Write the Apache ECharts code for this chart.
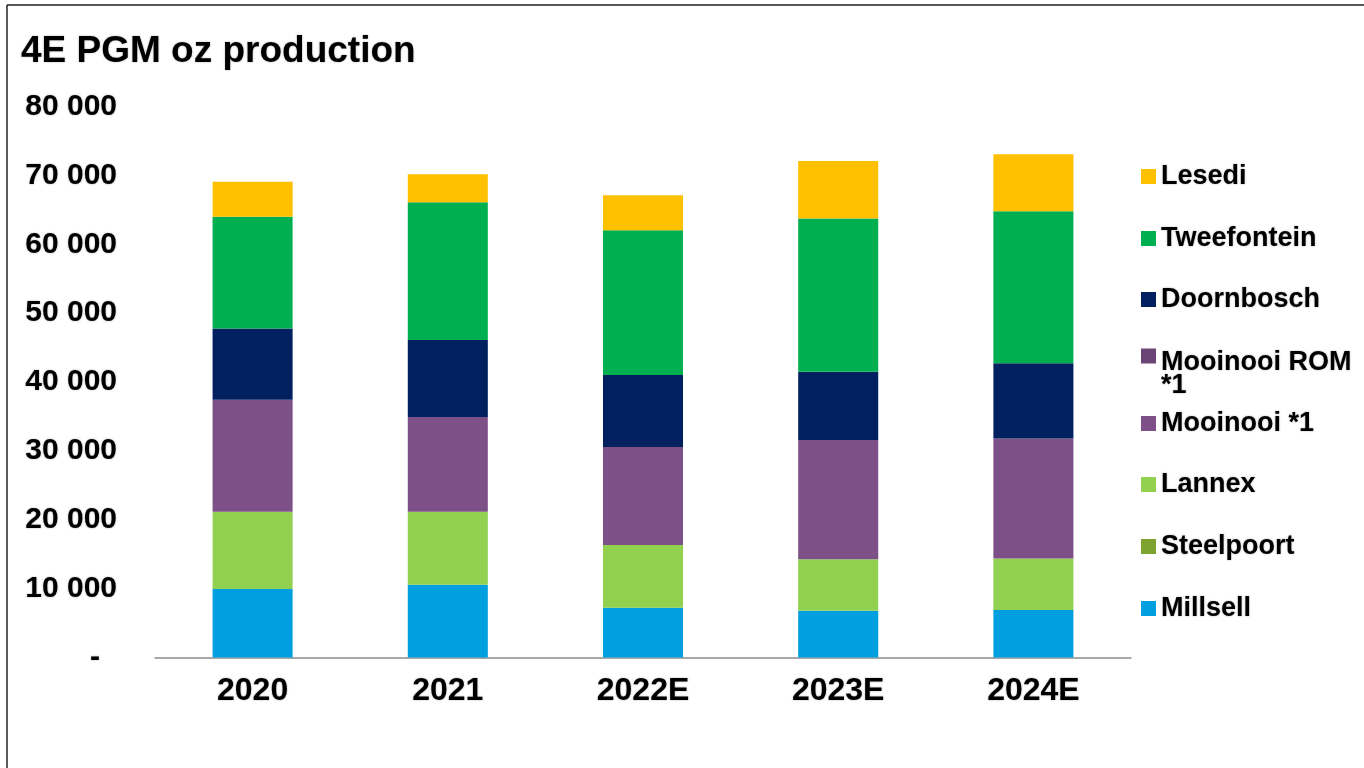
<!DOCTYPE html>
<html>
<head>
<meta charset="utf-8">
<script src="https://cdn.jsdelivr.net/npm/echarts@6/dist/echarts.min.js"></script>
<style>
html,body{margin:0;padding:0;background:#fff;}
#chart{width:1364px;height:768px;}
</style>
</head>
<body>
<div id="chart"></div>
<script>
// ---- data ----
const categories = ['2020', '2021', '2022E', '2023E', '2024E'];
const millsell    = [9940, 10570, 7230, 6790, 6890];
const steelpoort  = [0, 0, 0, 0, 0];
const lannex      = [11220, 10600, 9100, 7460, 7500];
const mooinooi    = [16260, 13750, 14220, 17320, 17420];
const mooinooiRom = [0, 0, 0, 0, 0];
const doornbosch  = [10360, 11180, 10450, 9910, 10930];
const tweefontein = [16200, 19990, 21050, 22270, 22060];
const lesedi      = [5080, 4060, 5080, 8320, 8270];
const yTicks = { min: 0, max: 80000, interval: 10000 };
const titleText = '4E PGM oz production';

// ---- chart ----
const FONT = 'Liberation Sans, Arial, sans-serif';
const shadow = { textShadowColor: 'rgba(0,0,0,0.35)', textShadowBlur: 2 };

const seriesDefs = [
  { name: 'Millsell', data: millsell, color: '#009FDF' },
  { name: 'Steelpoort', data: steelpoort, color: '#7FA32F' },
  { name: 'Lannex', data: lannex, color: '#92D050' },
  { name: 'Mooinooi *1', data: mooinooi, color: '#7D5088' },
  { name: 'Mooinooi ROM *1', data: mooinooiRom, color: '#6C4577' },
  { name: 'Doornbosch', data: doornbosch, color: '#002060' },
  { name: 'Tweefontein', data: tweefontein, color: '#00B050' },
  { name: 'Lesedi', data: lesedi, color: '#FFC000' }
];

// legend item vertical centres (layout)
const legendCenters = {
  'Lesedi': 175, 'Tweefontein': 237, 'Doornbosch': 298, 'Mooinooi ROM *1': 356,
  'Mooinooi *1': 422, 'Lannex': 483, 'Steelpoort': 545, 'Millsell': 607
};
const legendTextBase = { color: '#000', fontWeight: 'bold', fontSize: 27, fontFamily: FONT, lineHeight: 24, ...shadow };
const richLine = { color: '#000', fontWeight: 'bold', fontSize: 27, fontFamily: FONT, lineHeight: 23, ...shadow };

const legends = Object.keys(legendCenters).map(name => {
  const isRom = name === 'Mooinooi ROM *1';
  const h = isRom ? 37 + 46 : 24;
  return {
    data: [name],
    orient: 'vertical',
    left: 1141,
    top: legendCenters[name] - h / 2,
    itemWidth: 15,
    itemHeight: 15,
    icon: 'rect',
    padding: 0,
    formatter: n => isRom ? '{e| }\n{a|Mooinooi ROM}\n{a|*1}' : n,
    textStyle: Object.assign({}, legendTextBase, isRom ? {
      rich: { e: { fontSize: 10, lineHeight: 37 }, a: richLine }
    } : {})
  };
});

const chart = echarts.init(document.getElementById('chart'));
chart.setOption({
  backgroundColor: '#fff',
  animation: false,
  title: {
    text: titleText,
    left: 16,
    top: 28,
    textStyle: { color: '#000', fontWeight: 'bold', fontSize: 37, fontFamily: FONT, ...shadow }
  },
  legend: legends,
  grid: { left: 155, right: 233, top: 106.5, bottom: 110.5, containLabel: false },
  xAxis: {
    type: 'category',
    data: categories,
    axisLine: { lineStyle: { color: '#8c8c8c', width: 1.5 } },
    axisTick: { show: false },
    axisLabel: { color: '#000', fontWeight: 'bold', fontSize: 32, fontFamily: FONT, margin: 18, ...shadow }
  },
  yAxis: {
    type: 'value',
    min: yTicks.min, max: yTicks.max, interval: yTicks.interval,
    splitLine: { show: false },
    axisLine: { show: false },
    axisTick: { show: false },
    axisLabel: {
      color: '#000', fontWeight: 'bold', fontSize: 30, fontFamily: FONT, margin: 38, ...shadow,
      formatter: v => v === 0 ? '{d|-}' : String(v).replace(/\B(?=(\d{3})+(?!\d))/g, ' '),
      rich: { d: { color: '#000', fontWeight: 'bold', fontSize: 30, fontFamily: FONT, padding: [0, 17, 0, 0], ...shadow } }
    }
  },
  series: seriesDefs.map(s => ({
    name: s.name,
    type: 'bar',
    stack: 'total',
    data: s.data,
    barWidth: '41%',
    itemStyle: { color: s.color },
    emphasis: { disabled: true }
  })),
  graphic: [
    { type: 'line', shape: { x1: 7, y1: 5, x2: 1364, y2: 5 }, style: { stroke: '#222', lineWidth: 1.5 } },
    { type: 'line', shape: { x1: 7, y1: 5, x2: 7, y2: 768 }, style: { stroke: '#222', lineWidth: 1.5 } }
  ]
});
</script>
</body>
</html>
